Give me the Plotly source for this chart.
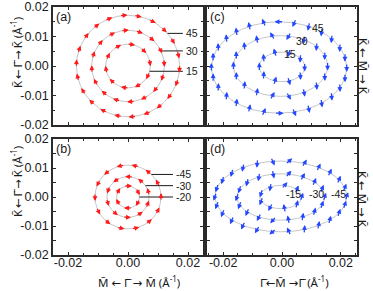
import math
import plotly.graph_objects as go

# ---------------- data ----------------
# tick values / labels
x_tick_vals = [-0.02, 0.0, 0.02]
x_tick_text = ["-0.02", "0.00", "0.02"]
y_tick_vals = [-0.02, -0.01, 0.0, 0.01, 0.02]
y_tick_text = ["-0.02", "-0.01", "0.00", "0.01", "0.02"]

# (a) positive energies: circular contours, arrow sites in degrees
a_energy = ["15", "30", "45"]
a_radius = [0.0074, 0.0121, 0.0172]
a_sense = [-1, -1, -1]            # -1 clockwise, +1 counter-clockwise
a15_pos = [10, 46, 82, 118, 154, 190, 226, 262, 298, 334]
a30_pos = [5, 27, 50, 72, 95, 117, 140, 162, 185, 207, 230, 252, 275, 297, 320, 342]
a45_pos = [-3, 13, 30, 46, 62, 79, 95, 112, 128, 144, 161, 177, 193, 210, 226,
           242, 259, 275, 292, 308, 324, 341]
a_label_at = [-14, 25, 40]

# (b) negative energies
b_energy = ["-20", "-30", "-45"]
b_radius = [0.0038, 0.0070, 0.0110]
b_sense = [-1, 1, 1]
b20_pos = [30, 90, 150, 210, 270, 330]
b30_pos = [15, 51, 87, 123, 159, 195, 231, 267, 303, 339]
b45_pos = [0, 26, 51, 77, 103, 129, 154, 180, 206, 231, 257, 283, 309, 334]
b_label_at = [0, 34, 45]

# (c) positive energies around M: elliptic contours, site angle t and spin angle (deg)
c_energy = ["15", "30", "45"]
c_semi_x = [0.0077, 0.0160, 0.0230]
c_semi_y = [0.0050, 0.0103, 0.0155]
c_center_x = [0.0, -0.0005, -0.0010]
c_center_y = [-0.0003, 0.0, -0.0005]
c15_pos = [0, 36, 72, 108, 144, 180, 216, 252, 288, 324]
c15_spin = [270, 266, 253, 107, 94, 90, 86, 73, 287, 274]
c30_pos = [0, 20, 40, 60, 80, 100, 120, 140, 160, 180, 200, 220, 240, 260, 280, 300, 320, 340]
c30_spin = [270, 268, 265, 260, 240, 120, 100, 95, 92, 90, 88, 85, 80, 60, 300, 280, 275, 272]
c45_pos = [0, 13, 26, 39, 51, 64, 77, 90, 103, 116, 129, 141, 154, 167, 180, 193, 206,
           219, 231, 244, 257, 270, 283, 296, 309, 321, 334, 347]
c45_spin = [270, 269, 267, 265, 263, 258, 246, 180, 114, 102, 97, 95, 93, 91, 90, 89, 87,
            85, 83, 78, 66, 0, 294, 282, 277, 275, 273, 271]

# (d) negative energies around M
d_energy = ["-15", "-30", "-45"]
d_semi_x = [0.0071, 0.0149, 0.0224]
d_semi_y = [0.0040, 0.0080, 0.0122]
d_center_x = [-0.0004, -0.0004, -0.0004]
d_center_y = [0.0, 0.0, 0.0002]
d15_pos = [0, 40, 80, 120, 160, 200, 240, 280, 320]
d15_spin = [71, 67, 48, 260, 253, 249, 242, 102, 75]
d30_pos = [0, 20, 40, 60, 80, 100, 120, 140, 160, 180, 200, 220, 240, 260, 280, 300, 320, 340]
d30_spin = [71, 69, 67, 62, 48, 282, 260, 255, 253, 251, 249, 247, 242, 228, 102, 80, 75, 73]
d45_pos = [0, 14, 28, 42, 55, 69, 83, 97, 111, 125, 138, 152, 166, 180, 194, 208, 222,
           235, 249, 263, 277, 291, 305, 318, 332, 346]
d45_spin = [71, 69, 68, 66, 64, 58, 41, 295, 265, 258, 255, 254, 252, 251, 249, 248, 246,
            244, 238, 221, 115, 85, 78, 75, 73, 72]

# ---------------- layout helpers ----------------
W, H = 373, 291
FONT = "Liberation Sans, Arial, sans-serif"
TFONT = "Noto Sans, DejaVu Sans, sans-serif"
RED = "#ff1a1a"
BLUE = "#2448ff"
RING = "#c6c6c6"
FRAME = "#2a2a2a"
TXT = "#1a1a1a"

def px_x(p):
    return p / W

def px_y(p):
    return 1 - p / H

# panel geometry in pixels: (left, right, top, bottom)
cols = {"L": (53, 203), "R": (207, 357)}
rows = {"T": (7, 125), "B": (139, 255)}
xr_L = [-0.025, 0.025]
xr_R = [-0.0255, 0.0255]
yr = [-0.02, 0.02]

panels = {
    "a": dict(ax="", col="L", row="T"),
    "c": dict(ax="2", col="R", row="T"),
    "b": dict(ax="3", col="L", row="B"),
    "d": dict(ax="4", col="R", row="B"),
}

fig = go.Figure()
layout = dict(width=W, height=H, margin=dict(l=0, r=0, t=0, b=0, autoexpand=False),
              paper_bgcolor="white", plot_bgcolor="white", showlegend=False)

def axis_style():
    return dict(showline=True, linecolor=FRAME, linewidth=1.5, mirror="allticks",
                ticks="inside", ticklen=3, tickwidth=1, tickcolor=FRAME,
                showgrid=False, zeroline=False, automargin=False,
                tickfont=dict(family=FONT, size=12.5, color=TXT),
                minor=dict(ticks="inside", ticklen=2, dtick=0.005, tick0=0,
                           tickcolor=FRAME, showgrid=False))

scales = {}
label_axis = 5
for name, p in panels.items():
    l, r = cols[p["col"]]
    t, b = rows[p["row"]]
    xr = xr_L if p["col"] == "L" else xr_R
    xa = axis_style()
    xa.update(domain=[px_x(l), px_x(r)], range=xr, tickvals=x_tick_vals,
              ticktext=x_tick_text, showticklabels=False, anchor="y" + p["ax"])
    ya = axis_style()
    ya.update(domain=[px_y(b), px_y(t)], range=yr, tickvals=y_tick_vals,
              ticktext=y_tick_text, showticklabels=(p["col"] == "L"),
              anchor="x" + p["ax"])
    layout["xaxis" + p["ax"]] = xa
    layout["yaxis" + p["ax"]] = ya
    scales[name] = ((r - l) / (xr[1] - xr[0]), (b - t) / (yr[1] - yr[0]),
                    "x" + p["ax"], "y" + p["ax"])
    fig.add_trace(go.Scatter(x=[None], y=[None], xaxis="x" + p["ax"],
                             yaxis="y" + p["ax"], showlegend=False, hoverinfo="skip"))
    if p["row"] == "B":
        # tick labels of the bottom row, drawn a little closer to the frame
        key = "xaxis%d" % label_axis
        layout[key] = dict(domain=[px_x(l), px_x(r)], range=xr, tickvals=x_tick_vals,
                           ticktext=x_tick_text, showticklabels=True, showline=False,
                           showgrid=False, zeroline=False, ticks="", anchor="free",
                           overlaying="x" + p["ax"], position=px_y(b - 2),
                           automargin=False,
                           tickfont=dict(family=FONT, size=12.5, color=TXT))
        fig.add_trace(go.Scatter(x=[None], y=[None], xaxis="x%d" % label_axis,
                                 yaxis="y" + p["ax"], showlegend=False, hoverinfo="skip"))
        label_axis += 1

shapes = []
annotations = []

def ring(name, cx, cy, ax_, ay_):
    sx, sy, xr_, yr_ = scales[name]
    shapes.append(dict(type="circle", xref=xr_, yref=yr_, x0=cx - ax_, x1=cx + ax_,
                       y0=cy - ay_, y1=cy + ay_, line=dict(color=RING, width=1),
                       layer="below"))

def arrow(name, x, y, phi, length, color):
    sx, sy, xr_, yr_ = scales[name]
    ux = math.cos(math.radians(phi)) * length / 2 / sx
    uy = math.sin(math.radians(phi)) * length / 2 / sy
    annotations.append(dict(x=x + ux, y=y + uy, ax=x - ux, ay=y - uy,
                            xref=xr_, yref=yr_, axref=xr_, ayref=yr_,
                            showarrow=True, arrowhead=2, arrowsize=0.75,
                            arrowwidth=1.3, arrowcolor=color, text="",
                            standoff=0, startstandoff=0))

def text(name, x, y, s, anchor="left", size=10.5):
    sx, sy, xr_, yr_ = scales[name]
    annotations.append(dict(x=x, y=y, xref=xr_, yref=yr_, text=s, showarrow=False,
                            xanchor=anchor, yanchor="middle",
                            font=dict(family=FONT, size=size, color=TXT)))

# circular panels (a), (b)
for name, radii, senses, poss, lab_at, energies, xend in [
    ("a", a_radius, a_sense, [a15_pos, a30_pos, a45_pos], a_label_at, a_energy, 0.0183),
    ("b", b_radius, b_sense, [b20_pos, b30_pos, b45_pos], b_label_at, b_energy, 0.0150),
]:
    _, _, xr_, yr_ = scales[name]
    for rad, sense, pos, la, en in zip(radii, senses, poss, lab_at, energies):
        ring(name, 0.0, 0.0, rad, rad)
        for th in pos:
            x = rad * math.cos(math.radians(th))
            y = rad * math.sin(math.radians(th))
            arrow(name, x, y, th + sense * 90, 8, RED)
        lx = rad * math.cos(math.radians(la))
        ly = rad * math.sin(math.radians(la))
        shapes.append(dict(type="line", xref=xr_, yref=yr_, x0=lx, x1=xend, y0=ly, y1=ly,
                           line=dict(color=TXT, width=1)))
        text(name, xend + 0.0004, ly, en)

# elliptic panels (c), (d)
for name, sxs, sys_, cxs, cys, poss, spins in [
    ("c", c_semi_x, c_semi_y, c_center_x, c_center_y, [c15_pos, c30_pos, c45_pos],
     [c15_spin, c30_spin, c45_spin]),
    ("d", d_semi_x, d_semi_y, d_center_x, d_center_y, [d15_pos, d30_pos, d45_pos],
     [d15_spin, d30_spin, d45_spin]),
]:
    for a_, b_, cx, cy, pos, spin in zip(sxs, sys_, cxs, cys, poss, spins):
        ring(name, cx, cy, a_, b_)
        for t_, ph in zip(pos, spin):
            x = cx + a_ * math.cos(math.radians(t_))
            y = cy + b_ * math.sin(math.radians(t_))
            arrow(name, x, y, ph, 9, BLUE)

# energy labels in (c), (d)
for s, x, y in zip(c_energy, [0.0027, 0.0069, 0.0124], [0.0041, 0.0086, 0.0128]):
    text("c", x, y, s, anchor="center")
for s, x, y in zip(d_energy, [0.0038, 0.0118, 0.0191], [0.0010, 0.0010, 0.0010]):
    text("d", x, y, s, anchor="center")

# panel letters
for name, p in panels.items():
    annotations.append(dict(x=0.005, y=0.995, xref="x" + p["ax"] + " domain",
                            yref="y" + p["ax"] + " domain", text="(" + name + ")",
                            showarrow=False, xanchor="left", yanchor="top",
                            font=dict(family=FONT, size=12.5, color=TXT)))

BAR = "\u0304"
KB = "K" + BAR
GB = "\u0393" + BAR
MB = "M" + BAR
TS = "\u2009"
unit = " (\u00c5<sup>-1</sup>)"
ytitle = KB + TS + "\u2190" + TS + GB + TS + "\u2192" + TS + KB + unit
for cy in [53, 182]:
    annotations.append(dict(x=px_x(16), y=px_y(cy), xref="paper", yref="paper",
                            text=ytitle, textangle=-90, showarrow=False,
                            xanchor="center", yanchor="middle",
                            font=dict(family=TFONT, size=11.5, color=TXT)))
for cy in [66, 199]:
    annotations.append(dict(x=px_x(363), y=px_y(cy), xref="paper", yref="paper",
                            text=KB + " \u2190 " + MB + " \u2192 " + KB, textangle=90,
                            showarrow=False, xanchor="center", yanchor="middle",
                            font=dict(family=TFONT, size=11.5, color=TXT)))
annotations.append(dict(x=px_x(139), y=px_y(281), xref="paper", yref="paper",
                        text=MB + " \u2190 " + GB + " \u2192 " + MB + unit, showarrow=False,
                        xanchor="center", yanchor="middle",
                        font=dict(family=TFONT, size=11.5, color=TXT)))
annotations.append(dict(x=px_x(294), y=px_y(281), xref="paper", yref="paper",
                        text=GB + "\u2190" + MB + " \u2192" + GB + unit, showarrow=False,
                        xanchor="center", yanchor="middle",
                        font=dict(family=TFONT, size=11.5, color=TXT)))

layout["shapes"] = shapes
layout["annotations"] = annotations
fig.update_layout(**layout)
fig.write_html("out.html", config={"displayModeBar": False},
               post_script="document.body.style.margin='0px';")
